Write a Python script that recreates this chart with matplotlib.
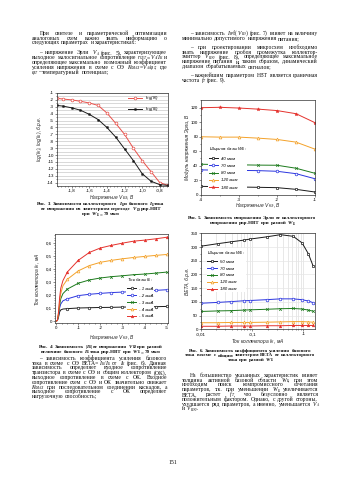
import re
import matplotlib
matplotlib.use('Agg')
import matplotlib.pyplot as plt
from matplotlib.ticker import MultipleLocator, FixedLocator, FixedFormatter, LogLocator, NullFormatter

plt.rcParams['font.family'] = ['Liberation Sans', 'DejaVu Sans']
plt.rcParams['axes.unicode_minus'] = False

# ---------------- data ----------------
# Fig. 3
vbe = [-1.97, -1.9, -1.8, -1.7, -1.6, -1.5, -1.4, -1.3, -1.2, -1.1, -1.0, -0.9, -0.8, -0.71]
log_ik = [-1.77, -1.87, -2.0, -2.2, -2.45, -2.8, -3.9, -5.4, -7.0, -9.0, -10.8, -12.4, -14.0, -14.4]
log_ib = [-2.8, -2.9, -3.15, -3.5, -4.1, -4.85, -6.0, -7.4, -9.1, -10.8, -12.7, -13.8, -14.3, -14.4]
vbe_ticks = [-1.8, -1.6, -1.4, -1.2, -1.0, -0.8]
vbe_ticklabels = ['-1,8', '-1,6', '-1,4', '-1,2', '-1,0', '-0,8']
log_ticks = [-1, -2, -3, -4, -5, -6, -7, -8, -9, -10, -11, -12, -13, -14]
log_ticklabels = ['-1', '-2', '-3', '-4', '-5', '-6', '-7', '-8', '-9', '-10', '-11', '-12', '-13', '-14']

# Fig. 4
vce4 = [0, -0.05, -0.1, -0.15, -0.2, -0.3, -0.5, -1.0, -1.5, -2.0, -2.5, -3.0, -3.5, -4.0, -4.5, -5.0]
ic_1 = [0, 0.005, 0.03, 0.07, 0.085, 0.092, 0.095, 0.100, 0.102, 0.104, 0.105, 0.107, 0.108, 0.109, 0.110, 0.112]
ic_2 = [0, 0.005, 0.04, 0.10, 0.13, 0.155, 0.170, 0.195, 0.205, 0.212, 0.218, 0.222, 0.226, 0.230, 0.235, 0.240]
ic_3 = [0, 0.005, 0.05, 0.12, 0.17, 0.21, 0.245, 0.290, 0.315, 0.330, 0.340, 0.347, 0.355, 0.360, 0.367, 0.375]
ic_4 = [0, 0.005, 0.06, 0.15, 0.21, 0.27, 0.320, 0.385, 0.425, 0.450, 0.465, 0.477, 0.487, 0.495, 0.503, 0.510]
ic_5 = [0, 0.005, 0.07, 0.18, 0.25, 0.31, 0.376, 0.466, 0.526, 0.560, 0.580, 0.597, 0.612, 0.620, 0.630, 0.642]
ib_labels = ['- 1 мкА', '- 2 мкА', '- 3 мкА', '- 4 мкА', '- 5 мкА']
vce4_ticks = [0, -1, -2, -3, -4, -5]
vce4_ticklabels = ['0', '-1', '-2', '-3', '-4', '-5']
ic4_ticks = [0, 0.1, 0.2, 0.3, 0.4, 0.5, 0.6]
ic4_ticklabels = ['0', '0,1', '0,2', '0,3', '0,4', '0,5', '0,6']

# Fig. 5
vce5 = [-4, -3.5, -3, -2.5, -2, -1.5, -1]
va_40 = [11.5, 11.0, 10.6, 10.2, 9.7, 7.4, 3.7]
va_70 = [34.2, 33.8, 33.5, 33.2, 32.3, 29.0, 22.0]
va_80 = [42.0, 41.5, 41.2, 40.8, 40.6, 36.5, 29.5]
va_120 = [79.9, 79.4, 79.4, 78.0, 76.2, 72.5, 62.8]
va_180 = [120.0, 120.5, 119.5, 118.0, 116.0, 111.7, 99.3]
wb5_labels = ['40 мкм', '70 мкм', '80 мкм', '120 мкм', '180 мкм']
vce5_ticks = [-4, -3, -2, -1]
va_ticks = [0, 20, 40, 60, 80, 100, 120]

# Fig. 6
ic6 = [0.01, 0.021, 0.039, 0.068, 0.091, 0.19, 0.355, 0.63, 0.94, 1.25, 1.55]
beta_50 = [303, 312, 319, 325, 329, 337, 345, 339, 315, 275, 230]
beta_70 = [95, 98, 101, 104, 105, 108, 111, 111, 108, 103, 97]
beta_80 = [65, 67, 68, 70, 71, 73, 75, 76, 74, 70, 66]
beta_120 = [24, 24, 25, 25, 25, 26, 27, 28, 28, 27, 26]
beta_180 = [11, 11, 12, 12, 12, 13, 13, 14, 14, 14, 14]
wb6_labels = ['50 мкм', '70 мкм', '80 мкм', '120 мкм', '180 мкм']
ic6_ticks = [0.01, 0.1, 1]
ic6_ticklabels = ['-0,01', '-0,1', '-1']
beta_ticks = [0, 50, 100, 150, 200, 250, 300, 350]

# ---------------- text ----------------
# words of the form  X_sub  are drawn as italic X with a small subscript
left_top_p1 = ["При синтезе и параметрической оптимизации",
               "аналоговых схем важно знать информацию о",
               "следующих параметрах и характеристиках:"]
left_top_p2 = ["– напряжение Эрли V_A (рис. 5), характеризующее",
               "выходное малосигнальное сопротивление r_OUT=V_A/I_K и",
               "определяющее максимально возможный коэффициент",
               "усиления напряжения в схеме с ОЭ K_VMAX=V_A/φ_T, где",
               "φ_T – температурный потенциал;"]
right_top_p1 = ["– зависимость I_К=f(V_КЭ) (рис. 7) влияет на величину",
                "минимально допустимого напряжения питания;"]
right_top_p2 = ["– при проектировании микросхем необходимо",
                "знать напряжение пробоя промежутка коллектор-",
                "эмиттер V_КЭ0 (рис. 8), определяющее максимальное",
                "напряжение питания и, таким образом, динамический",
                "диапазон обрабатываемых сигналов;"]
right_top_p3 = ["– важнейшим параметром НВТ является граничная",
                "частота f_T (рис. 9)."]
left_bot = ["– зависимость коэффициента усиления базового",
            "тока в схеме с ОЭ BETA=I_К/I_Б от I_К (рис. 6). Данная",
            "зависимость определяет входное сопротивление",
            "транзистора в схеме с ОЭ и общим коллектором (ОК),",
            "выходное сопротивление в схеме с ОК. Входное",
            "сопротивление схем с ОЭ и ОК значительно снижает",
            "K_VMAX при последовательном соединении каскадов, а",
            "выходное сопротивление с ОК определяет",
            "нагрузочную способность;"]
right_bot = ["На большинство указанных характеристик влияет",
             "толщина активной базовой области W_Б, при этом",
             "необходим поиск компромиссного сочетания",
             "параметров, т.к. при уменьшении W_Б увеличивается",
             "BETA, растет f_T, что безусловно является",
             "положительным фактором. Однако, с другой стороны,",
             "ухудшается ряд параметров, а именно, уменьшается V_A",
             "и V_КЭ0."]
cap3 = ["Рис. 3. Зависимости коллекторного I_К и базового I_Б тока",
        "от напряжения на эмиттерном переходе V_БЭ pnp-HBT",
        "при W_Б = 70 мкм"]
cap4 = ["Рис. 4. Зависимость |I_К| от напряжения V_КЭ при разной",
        "величине базового I_Б тока pnp-HBT при W_Б = 70 мкм"]
cap5 = ["Рис. 5. Зависимость напряжения Эрли от коллекторного",
        "напряжения pnp-HBT при разной W_Б"]
cap6 = ["Рис. 6. Зависимость коэффициента усиления базового",
        "тока в схеме с общим эмиттером BETA от коллекторного",
        "тока при разной W_Б"]

# ---------------- figure ----------------
W, H = 350, 495
fig = plt.figure(figsize=(3.5, 4.95), dpi=100)
fig.patch.set_facecolor('white')
R = fig.canvas.get_renderer()

def fx(x):
    return x / W

def fy(y):
    return 1 - y / H

def ftext(x, y, s, **kw):
    return fig.text(fx(x), fy(y), s, **kw)

def add_ax(x0, y0, x1, y1):
    return fig.add_axes([fx(x0), fy(y1), (x1 - x0) / W, (y1 - y0) / H])

BODY_FS = 4.05
TXT = '#0d0d0d'
SERIF = ['Liberation Serif', 'DejaVu Serif']
SUB_RE = re.compile(r'([A-Za-zА-Яа-яφ]+)_([A-Za-zА-Яа-я0-9]+)')

def split_pieces(word):
    """Split a word into (text, is_sub, italic) pieces."""
    pieces = []
    pos = 0
    for m in SUB_RE.finditer(word):
        if m.start() > pos:
            pieces.append((word[pos:m.start()], False, False))
        pieces.append((m.group(1), False, True))
        pieces.append((m.group(2), True, True))
        pos = m.end()
    if pos < len(word):
        pieces.append((word[pos:], False, False))
    return pieces

class Word:
    def __init__(self, word, fs, weight='normal'):
        self.objs = []
        self.width = 0
        for txt, sub, ital in split_pieces(word):
            f = fs * (0.62 if sub else 1.0)
            t = ftext(0, 0, txt, fontsize=f, family=SERIF, ha='left', va='baseline', color=TXT,
                      style='italic' if ital else 'normal', weight=weight)
            w = t.get_window_extent(R).width
            self.objs.append((t, self.width, 0.06 * fs * 100 / 72 if sub else 0.0))
            self.width += w

    def place(self, x, yb):
        for t, dx, dy in self.objs:
            t.set_position((fx(x + dx), fy(yb + dy)))

    def remove(self):
        for t, _, _ in self.objs:
            t.remove()

def para(lines, x0, x1, y0, dy, fs=BODY_FS, indent=8):
    for i, line in enumerate(lines):
        xs = x0 + (indent if i == 0 else 0)
        words = line.split(' ')
        last = (i == len(lines) - 1)
        f = fs
        while True:
            em = f * 100 / 72
            wo = [Word(w, f) for w in words]
            ws = [w.width for w in wo]
            mingap = 0.18 * em
            if sum(ws) + mingap * (len(words) - 1) <= (x1 - xs) or f < 2.5:
                break
            for w in wo:
                w.remove()
            f *= 0.96
        if last or len(words) == 1:
            gap = 0.25 * em
        else:
            gap = (x1 - xs - sum(ws)) / (len(words) - 1)
        yb = y0 + i * dy + 0.33 * em
        x = xs
        for w, wd in zip(wo, ws):
            w.place(x, yb)
            x += wd + gap

def caption(lines, xc, y0, dy, fs=3.6):
    em = fs * 100 / 72
    for i, line in enumerate(lines):
        words = line.split(' ')
        wo = [Word(w, fs, weight='bold') for w in words]
        gap = 0.25 * em
        total = sum(w.width for w in wo) + gap * (len(wo) - 1)
        x = xc - total / 2
        yb = y0 + i * dy + 0.35 * em
        for w in wo:
            w.place(x, yb)
            x += w.width + gap

TICK_FS = 3.2
LAB_FS = 3.5
LEG_FS = 3.2
ITAL = dict(family=['Liberation Sans', 'DejaVu Sans'], style='italic')

def style_ax(ax):
    ax.tick_params(which='both', direction='out', labelsize=TICK_FS, pad=0.6, width=0.4, color='#333333')
    ax.tick_params(which='major', length=1.5)
    ax.tick_params(which='minor', length=0.9)
    for s in ax.spines.values():
        s.set_linewidth(0.5)
        s.set_color('#333333')

def axlabel(x, y, s, rot=0):
    t = ftext(x, y, s, fontsize=LAB_FS, ha='center', va='center', rotation=rot, color='#222222', **ITAL)
    t.set_math_fontfamily('dejavusans')
    return t

def legend(ax, title, anchor, spacing=0.65, hl=2.2):
    leg = ax.legend(loc='upper left', bbox_to_anchor=anchor, frameon=True, facecolor='white',
                    edgecolor='none', framealpha=1, fancybox=False, borderpad=0.15,
                    prop=dict(size=LEG_FS, **ITAL), title=title,
                    title_fontproperties=dict(size=LEG_FS, **ITAL), alignment='left',
                    handlelength=hl, handletextpad=0.6, labelspacing=spacing, borderaxespad=0)
    if title:
        leg.get_title().set_math_fontfamily('dejavusans')
    return leg

RED = '#e5322d'
BLUE = '#2b35e0'
GREEN = '#1c7a1c'
ORANGE = '#f4a22a'
BLACK = '#1a1a1a'

# ---- text blocks ----
para(left_top_p1, 31.5, 167, 33, 4.8)
para(left_top_p2, 31.5, 167, 52.5, 4.8)
para(right_top_p1, 182, 318, 33, 4.8)
para(right_top_p2, 182, 318, 47.2, 4.7)
para(right_top_p3, 182, 318, 75.3, 4.8)
para(left_bot, 31.5, 167, 358, 4.8)
para(right_bot, 182, 318, 375, 4.8)
ftext(173, 463, '151', fontsize=4.2, family=SERIF, ha='center', va='center', color=TXT)

caption(cap3, 101, 203.5, 5.0)
caption(cap4, 101, 346.3, 5.1)
caption(cap5, 252, 217.5, 5.0)
caption(cap6, 250, 349.8, 4.8)

# ---- Fig. 3 ----
ax1 = add_ax(56.7, 93, 167.7, 185.7)
style_ax(ax1)
ax1.plot(vbe, log_ik, color='#e8504a', lw=0.7, marker='o', ms=2.0, mfc='white', mew=0.5, label='log(I$_К$)')
ax1.plot(vbe, log_ib, color=BLACK, lw=0.7, marker='s', ms=1.2, mew=0.4, label='log(I$_Б$)')
ax1.set_xlim(-1.97, -0.71)
ax1.set_ylim(-14.45, -1)
ax1.xaxis.set_major_locator(FixedLocator(vbe_ticks))
ax1.xaxis.set_major_formatter(FixedFormatter(vbe_ticklabels))
ax1.xaxis.set_minor_locator(MultipleLocator(0.04))
ax1.yaxis.set_major_locator(FixedLocator(log_ticks))
ax1.yaxis.set_major_formatter(FixedFormatter(log_ticklabels))
ax1.yaxis.set_minor_locator(MultipleLocator(0.5))
ax1.grid(axis='y', which='both', color='#d2d2d2', lw=0.6)
ax1.set_axisbelow(True)
lg1 = ax1.legend(loc='upper left', bbox_to_anchor=(0.64, 0.985), frameon=False,
                 prop=dict(size=LEG_FS, **ITAL), handlelength=3.2, handletextpad=0.6,
                 labelspacing=0.6, borderpad=0, borderaxespad=0)
for t in lg1.get_texts():
    t.set_math_fontfamily('dejavusans')
axlabel(40, 139, 'log(I$_К$), log(I$_Б$), б.р.е.', rot=90)
axlabel(112, 197.3, 'Напряжение V$_{БЭ}$, В')

# ---- Fig. 5 ----
ax2 = add_ax(201, 99.7, 315, 194.7)
style_ax(ax2)
ax2.plot(vce5, va_40, color=BLACK, lw=0.7, marker='s', ms=1.8, mfc='white', mew=0.5, label=wb5_labels[0])
ax2.plot(vce5, va_70, color=BLUE, lw=0.7, marker='o', ms=1.9, mfc='white', mew=0.5, label=wb5_labels[1])
ax2.plot(vce5, va_80, color=GREEN, lw=0.7, marker='x', ms=1.9, mew=0.5, label=wb5_labels[2])
ax2.plot(vce5, va_120, color=ORANGE, lw=0.7, marker='^', ms=2.0, mfc='white', mew=0.5, label=wb5_labels[3])
ax2.plot(vce5, va_180, color=RED, lw=0.7, marker='*', ms=2.6, mew=0.3, label=wb5_labels[4])
ax2.set_xlim(-4, -1)
ax2.set_ylim(0, 131)
ax2.xaxis.set_major_locator(FixedLocator(vce5_ticks))
ax2.xaxis.set_minor_locator(MultipleLocator(0.5))
ax2.yaxis.set_major_locator(FixedLocator(va_ticks))
ax2.yaxis.set_minor_locator(MultipleLocator(10))
legend(ax2, 'Ширина базы W$_Б$:', (0.06, 0.525), spacing=0.7)
axlabel(188, 147, 'Модуль напряжения Эрли, В', rot=90)
axlabel(258, 206, 'Напряжение V$_{КЭ}$, В')

# ---- Fig. 4 ----
ax3 = add_ax(55, 234, 167.7, 323)
style_ax(ax3)
mk = list(range(6, len(vce4)))
ax3.plot(vce4, ic_1, color=BLACK, lw=0.7, marker='o', ms=1.8, mfc='white', mew=0.5, markevery=mk, label=ib_labels[0])
ax3.plot(vce4, ic_2, color=BLUE, lw=0.7, marker='o', ms=1.9, mfc='white', mew=0.5, markevery=mk, label=ib_labels[1])
ax3.plot(vce4, ic_3, color=GREEN, lw=0.7, marker='x', ms=1.9, mew=0.5, markevery=mk, label=ib_labels[2])
ax3.plot(vce4, ic_4, color=ORANGE, lw=0.7, marker='^', ms=2.0, mfc='white', mew=0.5, markevery=mk, label=ib_labels[3])
ax3.plot(vce4, ic_5, color=RED, lw=0.7, marker='^', ms=2.0, mew=0.3, markevery=mk, label=ib_labels[4])
ax3.set_xlim(0.06, -5.05)
ax3.set_ylim(-0.015, 0.667)
ax3.xaxis.set_major_locator(FixedLocator(vce4_ticks))
ax3.xaxis.set_major_formatter(FixedFormatter(vce4_ticklabels))
ax3.xaxis.set_minor_locator(MultipleLocator(0.25))
ax3.yaxis.set_major_locator(FixedLocator(ic4_ticks))
ax3.yaxis.set_major_formatter(FixedFormatter(ic4_ticklabels))
ax3.yaxis.set_minor_locator(MultipleLocator(0.02))
legend(ax3, 'Ток базы I$_Б$:', (0.63, 0.53), spacing=0.62)
axlabel(37, 279, 'Ток коллектора I$_К$, мА', rot=90)
axlabel(112, 337, 'Напряжение V$_{КЭ}$, В')

# ---- Fig. 6 ----
ax4 = add_ax(201, 233.3, 315, 329.3)
style_ax(ax4)
ax4.set_xscale('log')
ax4.plot(ic6, beta_50, color=BLACK, lw=0.7, marker='s', ms=1.8, mfc='white', mew=0.5, label=wb6_labels[0])
ax4.plot(ic6, beta_70, color=BLUE, lw=0.7, marker='o', ms=1.9, mfc='white', mew=0.5, label=wb6_labels[1])
ax4.plot(ic6, beta_80, color=GREEN, lw=0.7, marker='x', ms=1.9, mew=0.5, label=wb6_labels[2])
ax4.plot(ic6, beta_120, color=ORANGE, lw=0.7, marker='^', ms=2.0, mfc='white', mew=0.5, label=wb6_labels[3])
ax4.plot(ic6, beta_180, color=RED, lw=0.7, marker='^', ms=2.0, mew=0.3, label=wb6_labels[4])
ax4.set_xlim(0.01, 1.68)
ax4.set_ylim(0, 350)
ax4.xaxis.set_major_locator(FixedLocator(ic6_ticks))
ax4.xaxis.set_major_formatter(FixedFormatter(ic6_ticklabels))
ax4.xaxis.set_minor_locator(LogLocator(base=10, subs=[2, 3, 4, 5, 6, 7, 8, 9]))
ax4.xaxis.set_minor_formatter(NullFormatter())
ax4.yaxis.set_major_locator(FixedLocator(beta_ticks))
ax4.yaxis.set_minor_locator(MultipleLocator(25))
ax4.grid(axis='x', which='both', color='#dedede', lw=0.5)
ax4.grid(axis='y', which='major', color='#e6e6e6', lw=0.5)
ax4.set_axisbelow(True)
legend(ax4, 'Ширина базы W$_Б$:', (0.05, 0.845), spacing=0.62)
axlabel(187, 281, 'BETA, б.р.е.', rot=90)
axlabel(258, 341, 'Ток коллектора I$_К$, мА')

fig.savefig('out.png', dpi=100, facecolor='white')
